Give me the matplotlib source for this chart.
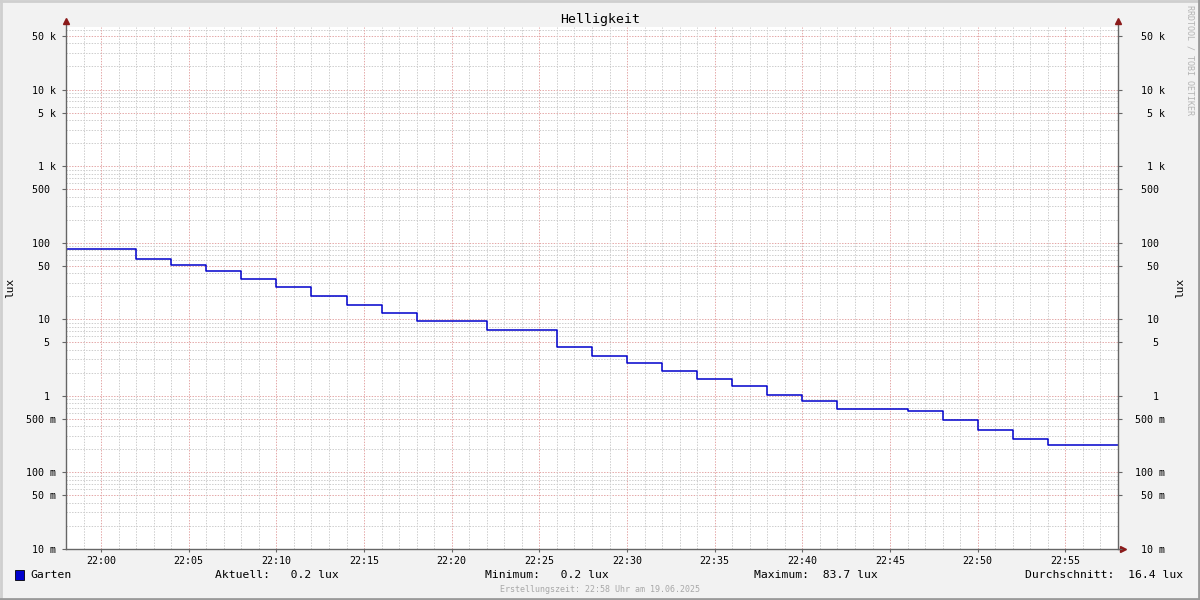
import matplotlib

matplotlib.use('agg')
import matplotlib.pyplot as plt
import matplotlib.dates as mdates
from matplotlib.patches import Rectangle
from matplotlib.lines import Line2D
import pandas as pd

# step start times (value holds until the next time), last entry = end of window
times = ["21:58", "22:02", "22:04", "22:06", "22:08", "22:10", "22:12", "22:14",
         "22:16", "22:18", "22:22", "22:26", "22:28", "22:30", "22:32", "22:34",
         "22:36", "22:38", "22:40", "22:42", "22:46", "22:48", "22:50", "22:52",
         "22:54", "22:58"]
lux = [83.7, 61, 51, 42.6, 33.5, 26.3, 20.1, 15.3,
       12.0, 9.5, 7.2, 4.3, 3.3, 2.7, 2.1, 1.66,
       1.34, 1.02, 0.85, 0.67, 0.63, 0.49, 0.355, 0.27,
       0.226, 0.226]

major_y = [0.01, 0.05, 0.1, 0.5, 1, 5, 10, 50, 100, 500, 1000, 5000, 10000, 50000]
major_y_labels = ["10 m", "50 m", "100 m", "500 m", "1 ", "5 ", "10 ", "50 ",
                  "100 ", "500 ", "1 k", "5 k", "10 k", "50 k"]

series_name = "Garten"
stats = [("Aktuell:", "0.2 lux"), ("Minimum:", "0.2 lux"),
         ("Maximum:", "83.7 lux"), ("Durchschnitt:", "16.4 lux")]

t = pd.to_datetime(["2025-06-19 " + s for s in times])

plt.rcParams['font.family'] = ['DejaVu Sans Mono']
fig = plt.figure(figsize=(12, 6), dpi=100, facecolor='#f2f2f2')
ax = fig.add_axes([66 / 1200, 51 / 600, (1118 - 66) / 1200, (549 - 27) / 600])
ax.set_facecolor('white')

line_col = '#0000cc'
ax.step(t, lux, where='post', color=line_col, lw=1.1, zorder=3)

ax.set_yscale('log')
ax.set_ylim(0.01, 65536)
ax.set_xlim(t[0], t[-1])

# grid (1px dotted)
minor_y = [m * 10 ** e for e in range(-2, 5) for m in range(2, 10)]
grid_minor = dict(color='#cdcdcd', lw=0.72, ls=(0, (1.4, 1.4)), zorder=1)
grid_major = dict(color='#e4a8a8', lw=0.72, ls=(0, (1.4, 1.4)), zorder=1)
for v in minor_y:
    if v not in major_y and v < 65536:
        ax.axhline(v, **grid_minor)
for v in major_y:
    ax.axhline(v, **grid_major)
minute = pd.Timedelta(minutes=1)
cur = t[0]
while cur <= t[-1]:
    style = grid_major if cur.minute % 5 == 0 else grid_minor
    ax.axvline(cur, **style)
    cur += minute

ax.set_yticks(major_y)
ax.set_yticklabels(major_y_labels)
ax.yaxis.set_minor_locator(matplotlib.ticker.NullLocator())
ax.tick_params(axis='y', length=3, width=0.8, color='#666666', pad=4, labelsize=7.2)
ax.xaxis.set_major_locator(mdates.MinuteLocator(byminute=range(0, 60, 5)))
ax.xaxis.set_major_formatter(mdates.DateFormatter('%H:%M'))
ax.tick_params(axis='x', length=2, width=0.8, color='#666666', pad=3, labelsize=7.2)

ax2 = ax.twinx()
ax2.set_yscale('log')
ax2.set_ylim(ax.get_ylim())
ax2.set_yticks(major_y)
ax2.set_yticklabels(major_y_labels)
ax2.yaxis.set_minor_locator(matplotlib.ticker.NullLocator())
ax2.tick_params(axis='y', length=3, width=0.8, color='#666666', pad=31, labelsize=7.2)
for lab in ax2.get_yticklabels():
    lab.set_horizontalalignment('right')

for a in (ax, ax2):
    for s in a.spines.values():
        s.set_visible(False)

# axis lines with arrows
axc = '#666666'
arr = '#8b1a1a'
ext = 6 / 522
ax.add_line(Line2D([0, 0], [0, 1 + ext], transform=ax.transAxes, color=axc, lw=1, clip_on=False, zorder=4))
ax.add_line(Line2D([1, 1], [0, 1 + ext], transform=ax.transAxes, color=axc, lw=1, clip_on=False, zorder=4))
ax.add_line(Line2D([0, 1 + 4 / 1052], [0, 0], transform=ax.transAxes, color=axc, lw=1, clip_on=False, zorder=4))
ax.plot([0, 1], [1 + ext, 1 + ext], transform=ax.transAxes, ls='none', marker='^', ms=4,
        color=arr, clip_on=False, zorder=5)
ax.plot([1 + 5 / 1052], [0], transform=ax.transAxes, ls='none', marker='>', ms=4,
        color=arr, clip_on=False, zorder=5)

# texts
fig.text(0.5, 1 - 19 / 600, "Helligkeit", ha='center', va='center', fontsize=9.5)
fig.text(10 / 1200, 1 - 288 / 600, "lux", rotation=90, ha='center', va='center', fontsize=8)
fig.text(1180 / 1200, 1 - 288 / 600, "lux", rotation=90, ha='center', va='center', fontsize=8)
fig.text(1190 / 1200, 1 - 5 / 600, "RRDTOOL / TOBI OETIKER", rotation=270, ha='center', va='top',
         fontsize=6, color='#b4b4b4')
fig.text(0.5, 1 - 589 / 600, "Erstellungszeit: 22:58 Uhr am 19.06.2025", ha='center', va='center',
         fontsize=6, color='#a8a8a8')

# legend row
ly = 1 - 575 / 600
fig.patches.append(Rectangle((15 / 1200, 1 - 580 / 600), 9 / 1200, 10 / 600, transform=fig.transFigure,
                             facecolor=line_col, edgecolor='black', lw=0.6))
fig.text(30 / 1200, ly, series_name, ha='left', va='center', fontsize=8.2)
xs = [215, 485, 754]
for (k, v), x in zip(stats[:3], xs):
    fig.text(x / 1200, ly, f"{k} {v:>9}", ha='left', va='center', fontsize=8.2)
k, v = stats[3]
fig.text(1183 / 1200, ly, f"{k} {v:>9}", ha='right', va='center', fontsize=8.2)

# 3d-ish frame
fig.add_artist(Line2D([0, 1], [1 - 1 / 600, 1 - 1 / 600], transform=fig.transFigure, color='#cfcfcf', lw=2))
fig.add_artist(Line2D([1 / 1200, 1 / 1200], [0, 1], transform=fig.transFigure, color='#cfcfcf', lw=2))
fig.add_artist(Line2D([0, 1], [1 / 600, 1 / 600], transform=fig.transFigure, color='#9a9a9a', lw=2))
fig.add_artist(Line2D([1 - 1 / 1200, 1 - 1 / 1200], [0, 1], transform=fig.transFigure, color='#9a9a9a', lw=2))

fig.savefig('out.png', dpi=100, facecolor=fig.get_facecolor())
